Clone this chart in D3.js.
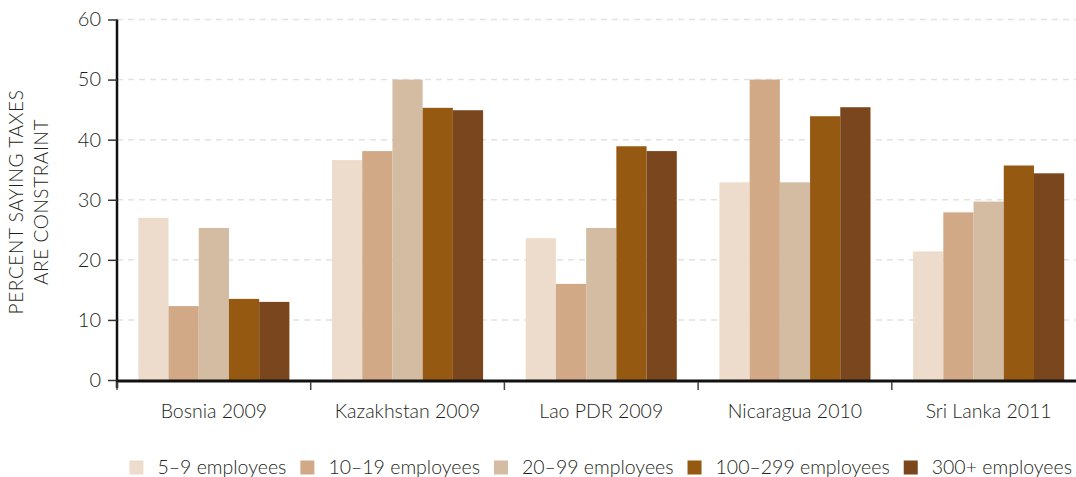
<!DOCTYPE html>
<html>
<head>
<meta charset="utf-8">
<script src="https://cdn.jsdelivr.net/npm/d3@7"></script>
<style>
  html, body { margin: 0; padding: 0; background: #fff; }
  svg { display: block; }
  text { font-family: "Lato", "Noto Sans", sans-serif; font-weight: 300; fill: #231f20; }
</style>
</head>
<body>
<svg id="chart" width="1076" height="477"></svg>
<script>
// Survey share of firms naming taxes as a major constraint, by firm size
const countries = ["Bosnia 2009", "Kazakhstan 2009", "Lao PDR 2009", "Nicaragua 2010", "Sri Lanka 2011"];
const sizeClasses = ["5–9 employees", "10–19 employees", "20–99 employees", "100–299 employees", "300+ employees"];
const size5to9     = [27.0, 36.6, 23.6, 32.9, 21.4];
const size10to19   = [12.3, 38.1, 16.0, 50.0, 27.9];
const size20to99   = [25.3, 50.0, 25.3, 32.9, 29.7];
const size100to299 = [13.5, 45.3, 38.9, 43.9, 35.7];
const size300plus  = [13.0, 44.9, 38.1, 45.4, 34.4];
const yTicks = [0, 10, 20, 30, 40, 50, 60];
const colors = ["#eddccb", "#d2a986", "#d4bca3", "#955911", "#7a461e"];

const seriesValues = [size5to9, size10to19, size20to99, size100to299, size300plus];

const svg = d3.select("#chart");
const W = 1076;
const plotTop = 19.5, plotBottom = 380;

const x0 = d3.scaleBand().domain(countries).range([117, 1085.5]).padding(0);
const bw = x0.bandwidth();
const x1 = d3.scaleBand().domain(sizeClasses).range([bw * 0.11, bw * 0.89]).padding(0);
const y = d3.scaleLinear().domain([0, 60]).range([plotBottom, plotTop]);

// dashed horizontal gridlines
svg.append("g")
  .selectAll("line")
  .data(yTicks.filter(d => d > 0))
  .join("line")
  .attr("x1", 117).attr("x2", W)
  .attr("y1", d => y(d)).attr("y2", d => y(d))
  .attr("stroke", "#e2e2e2")
  .attr("stroke-width", 1.5)
  .attr("stroke-dasharray", "6,5");

// bars
const groups = svg.append("g")
  .selectAll("g")
  .data(countries)
  .join("g")
  .attr("transform", d => `translate(${x0(d)},0)`);

groups.selectAll("rect")
  .data((c, i) => sizeClasses.map((s, j) => ({ s, v: seriesValues[j][i], j })))
  .join("rect")
  .attr("x", d => x1(d.s))
  .attr("width", x1.bandwidth())
  .attr("y", d => y(d.v))
  .attr("height", d => plotBottom - y(d.v))
  .attr("fill", d => colors[d.j]);

// y axis
const yAxis = svg.append("g")
  .attr("transform", "translate(117,0)")
  .call(d3.axisLeft(y).tickValues(yTicks).tickSize(9).tickPadding(7));
yAxis.select(".domain").attr("stroke", "#111").attr("stroke-width", 2.5)
  .attr("d", `M0,${plotTop}V${plotBottom + 8}`);
yAxis.selectAll(".tick line").attr("stroke", "#333").attr("stroke-width", 1.5);
yAxis.selectAll(".tick text")
  .style("font-size", "20px")
  .style("font-family", "Lato, sans-serif")
  .style("font-weight", 300)
  .attr("fill", "#231f20");

// x axis with ticks at band edges
const xAxisG = svg.append("g");
xAxisG.append("line")
  .attr("x1", 117).attr("x2", W)
  .attr("y1", plotBottom + 1).attr("y2", plotBottom + 1)
  .attr("stroke", "#111").attr("stroke-width", 3);
xAxisG.selectAll("line.edge")
  .data(countries)
  .join("line")
  .attr("class", "edge")
  .attr("x1", d => x0(d)).attr("x2", d => x0(d))
  .attr("y1", plotBottom + 2).attr("y2", plotBottom + 10)
  .attr("stroke", "#444").attr("stroke-width", 1.5);
xAxisG.selectAll("text")
  .data(countries)
  .join("text")
  .attr("x", d => x0(d) + bw / 2)
  .attr("y", 418)
  .attr("text-anchor", "middle")
  .style("font-size", "19.5px")
  .text(d => d);

// rotated y title
const yTitle = svg.append("text")
  .attr("transform", "translate(0,202) rotate(-90)")
  .attr("text-anchor", "middle")
  .style("font-size", "19px")
  .style("letter-spacing", "0.6px");
yTitle.append("tspan").attr("x", 0).attr("y", 23).text("PERCENT SAYING TAXES");
yTitle.append("tspan").attr("x", 0).attr("y", 48).text("ARE CONSTRAINT");

// legend laid out left to right, ending near the right edge
const legend = svg.append("g");
let cx = 0;
sizeClasses.forEach((s, i) => {
  const g = legend.append("g").attr("transform", `translate(${cx},0)`);
  g.append("rect").attr("x", 0).attr("y", -7).attr("width", 14).attr("height", 14).attr("fill", colors[i]);
  const t = g.append("text").attr("x", 28).attr("y", 6.5).style("font-size", "19.5px").text(s);
  const w = t.node().getComputedTextLength();
  cx += 28 + w + 14;
});
const legendWidth = cx - 14;
legend.attr("transform", `translate(${1072 - legendWidth},467.5)`);
</script>
</body>
</html>
